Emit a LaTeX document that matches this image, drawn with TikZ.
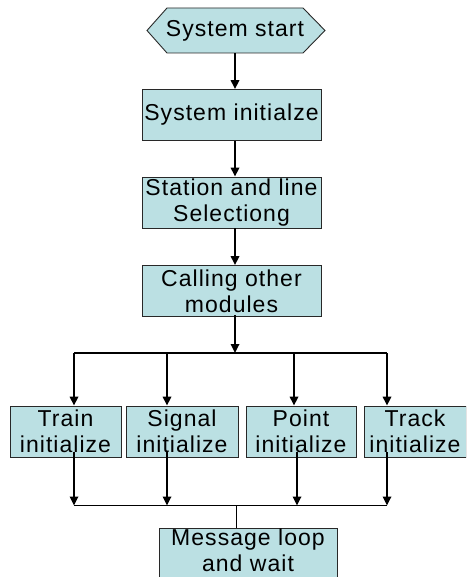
\documentclass[tikz,border=0pt]{standalone}
\usepackage{fontspec}
\setmainfont{Liberation Sans}[LetterSpace=4.5]
\usetikzlibrary{arrows.meta}
\definecolor{boxfill}{RGB}{187,224,227}
\definecolor{boxline}{RGB}{40,40,40}
\begin{document}
\begin{tikzpicture}[x=1pt,y=-1pt,
  font=\fontsize{23}{26}\selectfont,
  box/.style={draw=boxline, line width=0.9pt, fill=boxfill, align=center, inner sep=0pt},
  topbox/.style={box, minimum width=179, minimum height=51},
  subbox/.style={box, minimum height=51},
  flow/.style={line width=1.7pt, -{Triangle[length=9pt,width=8.5pt]}},
  joinline/.style={line width=1.1pt}]
\clip (0,0) rectangle (466,577);
\fill[white] (0,0) rectangle (466,577);

% start terminal (hexagon)
\draw[draw=boxline, line width=0.9pt, fill=boxfill]
  (147,30.5) -- (167,8) -- (303,8) -- (325,30.5) -- (303,53) -- (167,53) -- cycle;
\node[inner sep=0pt, minimum width=178, minimum height=45] (start) at (235,30.5) {System start};

% main sequence
\node[topbox] (init)    at (231.5,115)   {System initialze};
\node[topbox] (station) at (231.5,202.5) {Station and line\\Selectiong};
\node[topbox] (calling) at (231.5,291)   {Calling other\\modules};

\draw[flow] (start.south) -- (start.south |- init.north);
\draw[flow] (init.south -| start.south) -- (start.south |- station.north);
\draw[flow] (station.south -| start.south) -- (start.south |- calling.north);

% fan-out to the modules
\coordinate (fan)  at (235,353);
\coordinate (aT)   at (74,353);
\coordinate (aS)   at (167,353);
\coordinate (aP)   at (294,353);
\coordinate (aK)   at (387,353);
\draw[flow] ([yshift=2pt]calling.south -| fan) -- (fan);
\draw[joinline] (aT) -- (aK);

\node[subbox, minimum width=111] (train)  at (65.5,431.5)  {Train\\initialize};
\node[subbox, minimum width=112] (signal) at (182,431.5)   {Signal\\initialize};
\node[subbox, minimum width=110] (point)  at (301,431.5)   {Point\\initialize};
\node[subbox, minimum width=102] (track)  at (415,431.5)   {Track\\initialize};

\draw[flow] (aT) -- (aT |- train.north);
\draw[flow] (aS) -- (aS |- signal.north);
\draw[flow] (aP) -- (aP |- point.north);
\draw[flow] (aK) -- (aK |- track.north);

% fan-in to the message loop
\coordinate (bT) at (74,505.5);
\coordinate (bS) at (167,505.5);
\coordinate (bP) at (297,505.5);
\coordinate (bK) at (387,505.5);
\coordinate (merge) at (236,505.5);
\draw[flow] ([yshift=5pt]train.south -| bT) -- (bT);
\draw[flow] ([yshift=5pt]signal.south -| bS) -- (bS);
\draw[flow] ([yshift=5pt]point.south -| bP) -- (bP);
\draw[flow] ([yshift=5pt]track.south -| bK) -- (bK);
\draw[joinline] (bT) -- (bK);

\node[box, minimum width=178, minimum height=70] (msg) at (248,563) {};
\node[inner sep=0pt, align=center] (msgtext) at (248,550) {Message loop\\and wait};
\draw[line width=0.8pt] (merge) -- (merge |- msg.north);
\end{tikzpicture}
\end{document}
